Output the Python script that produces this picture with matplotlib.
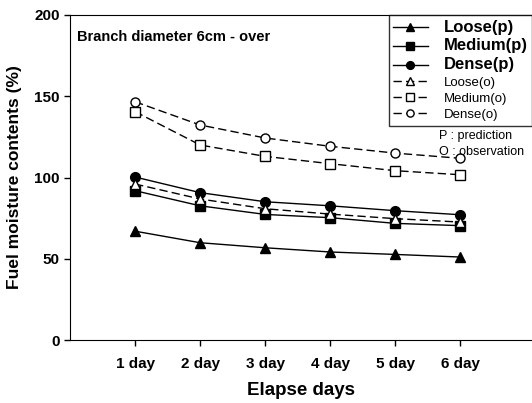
import matplotlib
matplotlib.use("Agg")
import matplotlib.pyplot as plt

days = [1, 2, 3, 4, 5, 6]
tick_labels = ["1 day", "2 day", "3 day", "4 day", "5 day", "6 day"]
loose_p = [67.0, 59.9, 56.8, 54.2, 52.7, 51.1]
medium_p = [91.9, 82.6, 77.3, 75.3, 71.8, 70.4]
dense_p = [100.3, 90.7, 85.1, 82.6, 79.6, 77.1]
loose_o = [96.0, 86.8, 80.8, 77.5, 74.7, 72.6]
medium_o = [140.5, 120.0, 113.0, 108.5, 104.2, 101.7]
dense_o = [146.6, 132.3, 124.3, 119.2, 115.0, 111.8]

plt.rcParams['font.family'] = ['Liberation Sans', 'DejaVu Sans']

fig = plt.figure(figsize=(5.32, 4.03), dpi=100)
ax = fig.add_axes([0.1316, 0.156, 0.8684, 0.807])

lw = 1.0
ax.plot(days, loose_p, '-', color='black', lw=lw, marker='^', ms=7, mfc='black', label='Loose(p)')
ax.plot(days, medium_p, '-', color='black', lw=lw, marker='s', ms=6.5, mfc='black', label='Medium(p)')
ax.plot(days, dense_p, '-', color='black', lw=lw, marker='o', ms=7, mfc='black', label='Dense(p)')
ax.plot(days, loose_o, '--', color='black', lw=lw, marker='^', ms=7, mfc='white', dashes=(6, 3), label='Loose(o)')
ax.plot(days, medium_o, '--', color='black', lw=lw, marker='s', ms=6.5, mfc='white', dashes=(6, 3), label='Medium(o)')
ax.plot(days, dense_o, '--', color='black', lw=lw, marker='o', ms=6.5, mfc='white', dashes=(6, 3), label='Dense(o)')

ax.set_xlim(0, 7.1)
ax.set_ylim(0, 200)
ax.set_yticks([0, 50, 100, 150, 200])
ax.set_xticks(days)
ax.set_xticklabels(tick_labels)
for lab in ax.get_xticklabels() + ax.get_yticklabels():
    lab.set_fontweight('bold')
    lab.set_fontsize(11)
ax.tick_params(axis='both', direction='out', length=4, width=1)
ax.tick_params(axis='x', pad=8)
ax.spines['right'].set_visible(False)
ax.set_xlabel('Elapse days', fontsize=13.5, fontweight='bold', labelpad=8)
ax.set_ylabel('Fuel moisture contents (%)', fontsize=12.5, fontweight='bold', labelpad=9)

ax.text(0.015, 0.955, 'Branch diameter 6cm - over', transform=ax.transAxes,
        fontsize=10.5, fontweight='bold', va='top', ha='left')

leg = ax.legend(loc='upper right', bbox_to_anchor=(1.0, 1.0), frameon=True, fancybox=False,
                edgecolor='black', handlelength=2.6, borderpad=0.35, labelspacing=0.3,
                handletextpad=1.2, fontsize=9.5, borderaxespad=0.0, markerscale=0.8)
leg.get_frame().set_linewidth(1.0)
for i, t in enumerate(leg.get_texts()):
    if i < 3:
        t.set_fontweight('bold')
        t.set_fontsize(12)

ax.text(0.798, 0.628, 'P : prediction', transform=ax.transAxes, fontsize=9, va='center', ha='left')
ax.text(0.798, 0.578, 'O : observation', transform=ax.transAxes, fontsize=9, va='center', ha='left')

fig.savefig('out.png', dpi=100)
